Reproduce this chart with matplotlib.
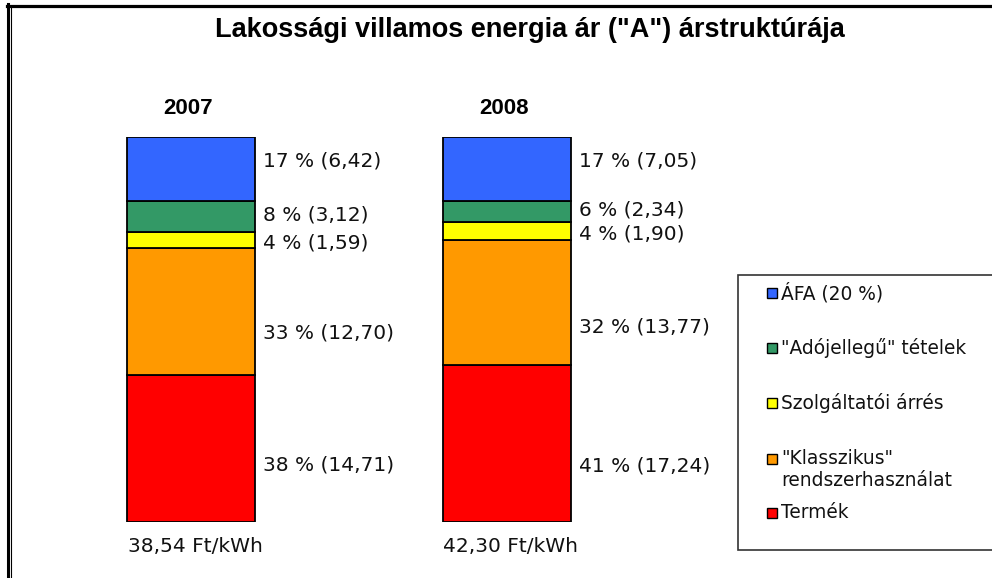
import numpy as np
import matplotlib.pyplot as plt
from matplotlib.patches import Rectangle
from matplotlib.lines import Line2D

# data (Ft/kWh), bottom to top of each bar
years = ["2007", "2008"]
components = ["Termék", "\"Klasszikus\"\nrendszerhasználat", "Szolgáltatói árrés",
              "\"Adójellegű\" tételek", "ÁFA (20 %)"]
values_2007 = [14.71, 12.70, 1.59, 3.12, 6.42]
values_2008 = [17.24, 13.77, 1.90, 2.34, 7.05]
pct_2007 = [38, 33, 4, 8, 17]
pct_2008 = [41, 32, 4, 6, 17]
totals = ["38,54 Ft/kWh", "42,30 Ft/kWh"]
colors = ["#FF0000", "#FF9900", "#FFFF00", "#339966", "#3366FF"]

# label nudges in pixels (downwards), per segment
label_dy = [[16, 21, 3, -2, -8], [22, 25, 3, -2, -8]]

W, H = 992, 578
fig = plt.figure(figsize=(W / 100, H / 100), dpi=100)
plt.rcParams['font.family'] = ['DejaVu Sans']

# axes placed so the 100 % bars run from y=137 to y=522 px
ax = fig.add_axes([100 / W, (H - 522) / H, 630 / W, 385 / H])
ax.set_xlim(-91 / 315.5, 539 / 315.5)
ax.set_ylim(0, 100)
ax.axis("off")

bar_w = 128 / 315.5
x = np.arange(len(years))
for i, vals in enumerate([values_2007, values_2008]):
    vals = np.array(vals)
    shares = vals / vals.sum() * 100
    bottoms = np.concatenate([[0], np.cumsum(shares)[:-1]])
    pcts = [pct_2007, pct_2008][i]
    for j in range(len(vals)):
        ax.bar(x[i], shares[j], bottom=bottoms[j], width=bar_w, color=colors[j],
               edgecolor="black", linewidth=1.3)
        txt = f"{pcts[j]} % ({vals[j]:.2f})".replace(".", ",")
        ax.annotate(txt, xy=(x[i] + bar_w / 2, bottoms[j] + shares[j] / 2),
                    xytext=(8, -label_dy[i][j]), textcoords="offset pixels",
                    ha="left", va="center", fontsize=14.5, color="#111111")
    ax.annotate(years[i], xy=(x[i], 100), xytext=(-3, 28), textcoords="offset pixels",
                ha="center", va="center", fontsize=16, fontweight="bold",
                family="Liberation Sans")
    ax.annotate(totals[i], xy=(x[i], 0), xytext=(4, -24), textcoords="offset pixels",
                ha="center", va="center", fontsize=14.5, color="#111111")

# title
fig.text(530 / W, 1 - 30 / H, "Lakossági villamos energia ár (\"A\") árstruktúrája",
         ha="center", va="center", fontsize=19.5, fontweight="bold",
         family="Liberation Sans")

# legend (drawn by hand to keep Excel-like spacing)
fig.patches.append(Rectangle((738 / W, 1 - 550 / H), 300 / W, 275 / H,
                             transform=fig.transFigure, facecolor="white",
                             edgecolor="#333333", linewidth=1.2))
row_y = [513, 459, 403, 348, 293]
for j, name in enumerate(components):
    yy = row_y[j]
    fig.patches.append(Rectangle((767 / W, 1 - (yy + 5) / H), 10 / W, 10 / H,
                                 transform=fig.transFigure, facecolor=colors[j],
                                 edgecolor="black", linewidth=1))
    for k, line in enumerate(name.split("\n")):
        fig.text(781 / W, 1 - (yy + 21 * k) / H, line, ha="left", va="center",
                 fontsize=13.4, color="#111111")

# outer frame: thick top, double left
fig.lines.append(Line2D([7 / W, 1], [1 - 5.5 / H, 1 - 5.5 / H], transform=fig.transFigure,
                        color="black", linewidth=2.3))
fig.lines.append(Line2D([8 / W, 8 / W], [0, 1 - 4 / H], transform=fig.transFigure,
                        color="black", linewidth=2.2))
fig.lines.append(Line2D([10.8 / W, 10.8 / W], [0, 1 - 7 / H], transform=fig.transFigure,
                        color="black", linewidth=0.8))

fig.savefig("out.png", dpi=100)
